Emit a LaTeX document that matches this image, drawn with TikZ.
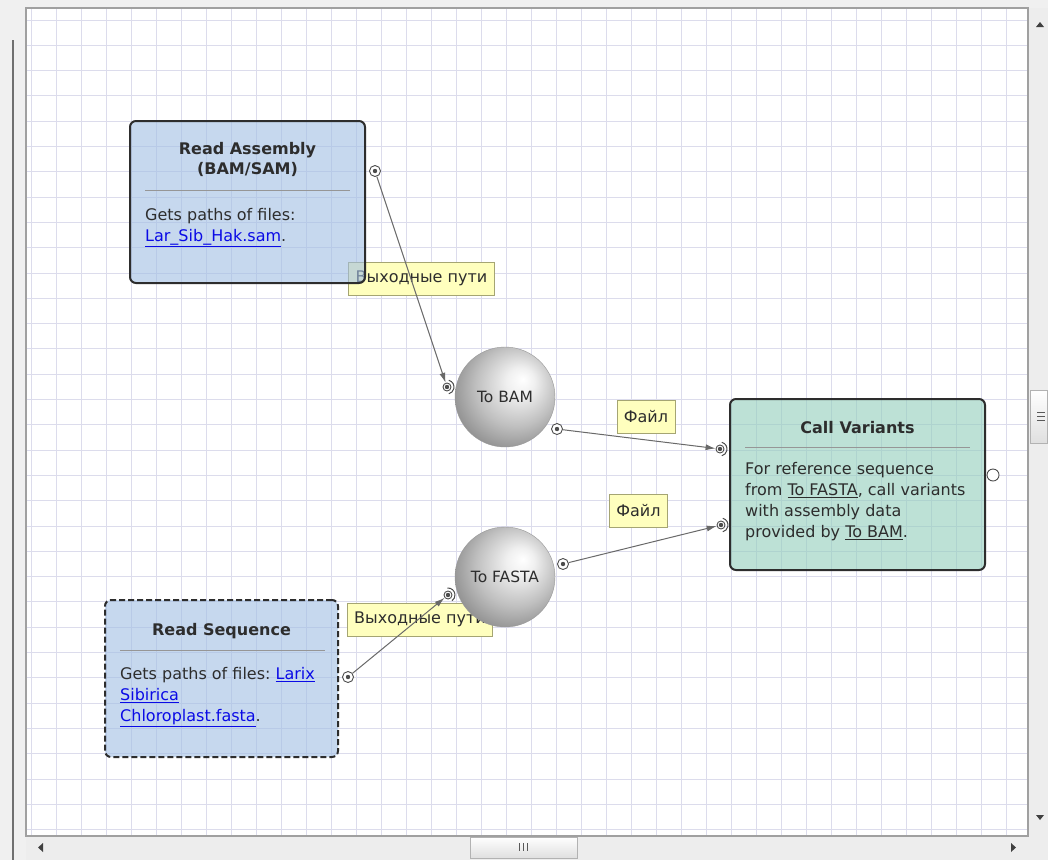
\documentclass[tikz,border=0pt]{standalone}
\usepackage{fontspec}
\setmainfont{DejaVu Sans}
\usepackage{xcolor}
\usepackage{tikz}
\usetikzlibrary{arrows.meta, positioning, calc}
\definecolor{wfGrid}{RGB}{220,220,236}
\definecolor{wfFrame}{RGB}{240,240,240}
\definecolor{wfEdge}{RGB}{160,160,160}
\definecolor{wfInk}{RGB}{45,45,45}
\definecolor{wfBlue}{RGB}{160,190,228}
\definecolor{wfTeal}{RGB}{145,205,188}
\definecolor{wfNote}{RGB}{255,255,190}
\definecolor{wfNoteEdge}{RGB}{165,165,115}
\definecolor{wfArrow}{RGB}{105,105,105}
\definecolor{wfLink}{RGB}{10,10,230}
\definecolor{wfSep}{RGB}{150,150,150}

\pgfdeclarelayer{grid}
\pgfdeclarelayer{under}
\pgfsetlayers{grid,under,main}

\pgfdeclareradialshading{wfSphere}{\pgfpoint{9bp}{9bp}}{%
  color(0bp)=(white); color(7bp)=(white!88!gray); color(20bp)=(gray!50);
  color(33bp)=(gray!95); color(50bp)=(gray!100)}

\newcommand{\wflink}[1]{\textcolor{wfLink}{\underline{#1}}}
\newcommand{\wfref}[1]{\underline{#1}}
\frenchspacing

\begin{document}
\begin{tikzpicture}[x=1pt,y=-1pt,
  every node/.style={font=\fontsize{16}{21}\selectfont,text=wfInk},
  task/.style={draw=wfInk,line width=2pt,rounded corners=6pt,fill=wfBlue,
               fill opacity=0.6,text opacity=1,inner sep=0pt},
  rtask/.style={task,fill=wfTeal},
  dtask/.style={task,dash pattern=on 6pt off 3pt},
  ttl/.style={font=\bfseries\fontsize{16}{20}\selectfont,align=center,
              inner sep=0pt,anchor=north},
  body/.style={align=left,inner sep=0pt,anchor=north west},
  splitline/.style={draw=wfSep,line width=0.8pt},
  sphere/.style={circle,minimum size=100pt,draw=gray!80,shade,shading=wfSphere,
                 font=\fontsize{15.5}{18}\selectfont,inner sep=0pt},
  outport/.style={circle,draw=wfInk!85,fill=white,line width=0.9pt,
                  minimum size=11pt,inner sep=0pt,
                  path picture={\fill[wfInk!85] (path picture bounding box.center) circle (2.2pt);}},
  inport/.style={outport,minimum size=8pt},
  freeport/.style={circle,draw=wfInk!85,fill=white,line width=0.9pt,
                   minimum size=12pt,inner sep=0pt},
  inarc/.style={draw=wfInk!85,line width=1pt},
  note/.style={draw=wfNoteEdge,fill=wfNote,line width=0.8pt,minimum height=33pt,
               inner xsep=7pt,inner ysep=0pt},
  flow/.style={-{Latex[length=10pt,width=6pt]},draw=wfArrow,line width=1pt}]
\useasboundingbox (0,0) rectangle (1048,860);

% Window frame, canvas and grid
\begin{pgfonlayer}{grid}
\fill[wfFrame] (0,0) rectangle (1048,860);
\draw[wfEdge!70!black,line width=1.2pt] (13,40) -- (13,860);
\fill[white] (26,8) rectangle (1028,836);
\foreach \gx in {31,56,...,1006}
  \draw[wfGrid,line width=0.9pt] (\gx,8) -- (\gx,836);
\foreach \k in {0,...,32}
  \draw[wfGrid,line width=0.9pt] (26,{20+25.3*\k}) -- (1028,{20+25.3*\k});
\draw[wfEdge,line width=1.2pt] (26,8) rectangle (1028,836);
% scroll bars
\fill[gray!14] (1029,8) rectangle (1048,860);
\fill[gray!14] (26,837) rectangle (1048,860);
\draw[gray!60,top color=white,bottom color=gray!25] (1030,390) rectangle (1047,443);
\draw[gray!60,top color=white,bottom color=gray!25] (470,837) rectangle (577,858);
\foreach \d in {-4,0,4} {
  \draw[gray!70!black,line width=0.8pt] (1037,416+\d) -- (1045,416+\d);
  \draw[gray!70!black,line width=0.8pt] (523+\d,843) -- (523+\d,851);
}
\fill[black!75] (1036,27) -- (1044,27) -- (1040,22) -- cycle;
\fill[black!75] (1036,815) -- (1044,815) -- (1040,820) -- cycle;
\fill[black!75] (43,843) -- (43,852) -- (38,847.5) -- cycle;
\fill[black!75] (1011,843) -- (1011,852) -- (1016,847.5) -- cycle;
\end{pgfonlayer}

% Read Assembly (top left)
\node[task,minimum width=235pt,minimum height=162pt] (ra) at (247.5,202) {};
\node[ttl] (ratitle) at (247.5,142) {Read Assembly\\(BAM/SAM)};
\draw[splitline] (145,190) -- (350,190);
\node[body] (rabody) at (145,208) {Gets paths of files:\\\wflink{Lar\_Sib\_Hak.sam}.};

% Read Sequence (bottom left)
\node[dtask,minimum width=233pt,minimum height=157pt] (rs) at (221.5,678.5) {};
\node[ttl] (rstitle) at (221.5,623) {Read Sequence};
\draw[splitline] (120,650) -- (325,650);
\node[body] (rsbody) at (120,667)
  {Gets paths of files: \wflink{Larix}\\\wflink{Sibirica}\\\wflink{Chloroplast.fasta}.};

% Call Variants (right)
\node[rtask,minimum width=255pt,minimum height=171pt] (cv) at (857.5,484.5) {};
\node[ttl] (cvtitle) at (857.5,421) {Call Variants};
\draw[splitline] (745,447) -- (970,447);
\node[body] (cvbody) at (745,462)
  {For reference sequence\\from \wfref{To FASTA}, call variants\\with assembly data\\provided by \wfref{To BAM}.};

% Converters (middle)
\node[sphere] (tobam) at (505,397) {To BAM};
\node[sphere] (tofasta) at (505,577) {To FASTA};

% Ports
\node[outport] (raout) at (375,171) {};
\node[inport] (bamin) at (447,387) {};
\node[outport] (bamout) at (557,429) {};
\node[outport] (fastaout) at (563,564) {};
\node[inport] (fastain) at (448,595) {};
\node[outport] (rsout) at (348,677) {};
\node[inport] (cvinA) at (720,449) {};
\node[inport] (cvinB) at (721,525) {};
\node[freeport] (cvout) at (993,475) {};
\foreach \p/\a in {bamin/0,fastain/-20,cvinA/0,cvinB/0}
  \draw[inarc] (\p.center) ++(\a-75:7) arc[start angle=\a-75,end angle=\a+75,radius=7];

% Link labels and arrows
\begin{pgfonlayer}{under}
\node[note] (noteA) at (421.5,278.5) {Выходные пути};
\node[note] (noteB) at (646,417) {Файл};
\node[note] (noteC) at (638.5,510.5) {Файл};
\node[note] (noteD) at (420,619.5) {Выходные пути};
\draw[flow] (raout) -- (bamin);
\draw[flow] (bamout) -- (cvinA);
\draw[flow] (fastaout) -- (cvinB);
\draw[flow] (rsout) -- (fastain);
\end{pgfonlayer}
\end{tikzpicture}
\end{document}
